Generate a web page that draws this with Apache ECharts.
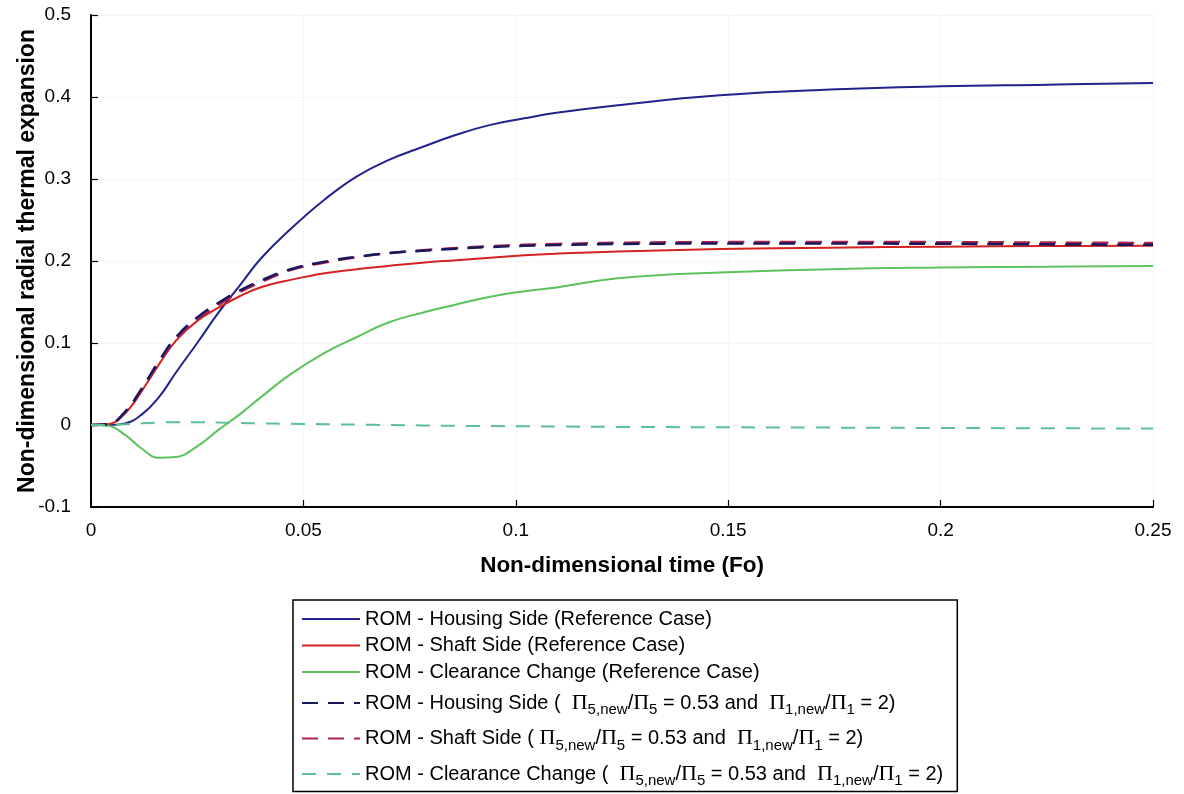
<!DOCTYPE html>
<html>
<head>
<meta charset="utf-8">
<title>Non-dimensional radial thermal expansion</title>
<script src="https://cdn.jsdelivr.net/npm/echarts@6/dist/echarts.min.js"></script>
<style>
  html, body { margin: 0; padding: 0; background: #ffffff; }
  #chart { width: 1184px; height: 794px; }
</style>
</head>
<body>
<div id="chart"></div>
<script>
// Non-dimensional time (Fo) sample points
const fo = [0, 0.004, 0.008, 0.012, 0.016, 0.02, 0.025, 0.03, 0.035, 0.04, 0.047, 0.055, 0.0625,
            0.07, 0.078, 0.086, 0.094, 0.102, 0.11, 0.124, 0.148, 0.174, 0.2, 0.225, 0.25];

// Reference case
const housingRef = [0, 0, 0.002, 0.013, 0.034, 0.064, 0.100, 0.137, 0.170, 0.203, 0.239, 0.275, 0.303,
                    0.323, 0.339, 0.354, 0.366, 0.374, 0.381, 0.390, 0.402, 0.409, 0.413, 0.415, 0.417];
const shaftRef = [0, 0.001, 0.014, 0.042, 0.074, 0.103, 0.127, 0.143, 0.157, 0.168, 0.177, 0.185, 0.190,
                  0.194, 0.198, 0.201, 0.204, 0.207, 0.209, 0.2115, 0.2145, 0.2163, 0.2175, 0.2183, 0.2187];
const clearanceRef = [0, -0.001, -0.012, -0.029, -0.040, -0.039, -0.026, -0.006, 0.013, 0.034, 0.062, 0.088, 0.107,
                      0.125, 0.137, 0.147, 0.1565, 0.163, 0.168, 0.179, 0.186, 0.190, 0.192, 0.193, 0.194];

// Modified case (Π5,new/Π5 = 0.53 and Π1,new/Π1 = 2)
const housingNew = [0, 0.001, 0.016, 0.045, 0.078, 0.107, 0.131, 0.149, 0.164, 0.176, 0.190, 0.199, 0.205,
                    0.2095, 0.2125, 0.215, 0.217, 0.2185, 0.2195, 0.2207, 0.2213, 0.2213, 0.221, 0.2203, 0.2197];
const shaftNew = [0, 0.001, 0.015, 0.043, 0.075, 0.104, 0.128, 0.146, 0.162, 0.174, 0.189, 0.198, 0.2045,
                  0.2095, 0.213, 0.2158, 0.218, 0.2197, 0.2208, 0.2222, 0.2230, 0.2232, 0.2230, 0.2225, 0.2220];
const clearanceNew = [0, 0, 0.001, 0.002, 0.003, 0.0035, 0.0035, 0.003, 0.0025, 0.002, 0.0015, 0.001, 0.0005,
                      0, -0.0005, -0.001, -0.0013, -0.0016, -0.0019, -0.0023, -0.0028, -0.0032, -0.0036, -0.004, -0.0043];

// Axis ticks
const xTicks = { min: 0, max: 0.25, step: 0.05 };
const yTicks = { min: -0.1, max: 0.5, step: 0.1 };

// Series names and their legend labels (rich text with subscripts)
const ratioText = '{t| = 0.53 and  }{p|Π}{s|1,new}{t|/}{p|Π}{s|1}{t| = 2)}';
const seriesNames = [
  'ROM - Housing Side (Reference Case)',
  'ROM - Shaft Side (Reference Case)',
  'ROM - Clearance Change (Reference Case)',
  'ROM - Housing Side (new)',
  'ROM - Shaft Side (new)',
  'ROM - Clearance Change (new)'
];
const legendLabels = [
  '{t|ROM - Housing Side (Reference Case)}',
  '{t|ROM - Shaft Side (Reference Case)}',
  '{t|ROM - Clearance Change (Reference Case)}',
  '{t|ROM - Housing Side (  }{p|Π}{s|5,new}{t|/}{p|Π}{s|5}' + ratioText,
  '{t|ROM - Shaft Side ( }{p|Π}{s|5,new}{t|/}{p|Π}{s|5}' + ratioText,
  '{t|ROM - Clearance Change (  }{p|Π}{s|5,new}{t|/}{p|Π}{s|5}' + ratioText
];

function pairs(values) {
  return fo.map((t, i) => [t, values[i]]);
}

const FONT = '"Liberation Sans", Arial, sans-serif';
const SERIF = '"Liberation Serif", "Times New Roman", serif';

function lineSeries(name, values, color, width, dash, z) {
  return {
    name: name,
    type: 'line',
    data: pairs(values),
    symbol: 'none',
    smooth: 0.45,
    z: z,
    lineStyle: { color: color, width: width, type: dash ? dash : 'solid' },
    itemStyle: { color: color },
    emphasis: { disabled: true }
  };
}

const chart = echarts.init(document.getElementById('chart'), null, { renderer: 'canvas' });

chart.setOption({
  animation: false,
  backgroundColor: '#ffffff',
  grid: { left: 91, right: 31, top: 15, bottom: 287, containLabel: false },
  xAxis: {
    type: 'value',
    min: xTicks.min,
    max: xTicks.max,
    interval: xTicks.step,
    name: 'Non-dimensional time (Fo)',
    nameLocation: 'middle',
    nameGap: 47,
    nameMoveOverlap: false,
    nameTextStyle: { fontFamily: FONT, fontSize: 22.5, fontWeight: 'bold', color: '#000' },
    axisLine: { show: true, onZero: false, lineStyle: { color: '#000', width: 2 } },
    axisTick: { show: true, inside: true, length: 7, lineStyle: { color: '#000', width: 1.2 } },
    axisLabel: { fontFamily: FONT, fontSize: 19, color: '#000', margin: 14 },
    splitLine: { show: true, lineStyle: { color: 'rgba(200,214,228,0.45)', type: 'dotted', width: 1 } }
  },
  yAxis: {
    type: 'value',
    min: yTicks.min,
    max: yTicks.max,
    interval: yTicks.step,
    name: 'Non-dimensional radial thermal expansion',
    nameLocation: 'middle',
    nameGap: 52,
    nameMoveOverlap: false,
    nameTextStyle: { fontFamily: FONT, fontSize: 23, fontWeight: 'bold', color: '#000' },
    axisLine: { show: true, onZero: false, lineStyle: { color: '#000', width: 2 } },
    axisTick: { show: true, inside: true, length: 7, lineStyle: { color: '#000', width: 1.2 } },
    axisLabel: { fontFamily: FONT, fontSize: 19, color: '#000', margin: 20 },
    splitLine: { show: true, lineStyle: { color: 'rgba(200,214,228,0.45)', type: 'dotted', width: 1 } }
  },
  legend: {
    orient: 'vertical',
    left: 293,
    top: 600,
    height: 300,
    padding: [9, 14, 3, 8],
    itemWidth: 58,
    itemHeight: 14,
    itemGap: 6.5,
    selectedMode: false,
    borderColor: '#000',
    borderWidth: 1.5,
    backgroundColor: '#fff',
    data: seriesNames,
    itemStyle: { opacity: 0 },
    formatter: function (name) {
      return legendLabels[seriesNames.indexOf(name)];
    },
    textStyle: {
      fontFamily: FONT,
      color: '#000',
      rich: {
        t: { fontFamily: FONT, fontSize: 20, lineHeight: 22, color: '#000' },
        p: { fontFamily: SERIF, fontSize: 22, lineHeight: 22, color: '#000' },
        s: { fontFamily: FONT, fontSize: 15, lineHeight: 22, color: '#000', padding: [14, 0, 0, 0] }
      }
    }
  },
  series: [
    lineSeries(seriesNames[0], housingRef, '#22228e', 2, null, 2),
    lineSeries(seriesNames[1], shaftRef, '#d42222', 2, null, 2),
    lineSeries(seriesNames[2], clearanceRef, '#5cc25c', 2, null, 2),
    lineSeries(seriesNames[3], housingNew, '#17175c', 2.5, [16, 10], 4),
    lineSeries(seriesNames[4], shaftNew, '#b2224a', 2.5, [16, 10], 3),
    lineSeries(seriesNames[5], clearanceNew, '#5cbf96', 2, [14, 11], 4)
  ]
});
</script>
</body>
</html>
